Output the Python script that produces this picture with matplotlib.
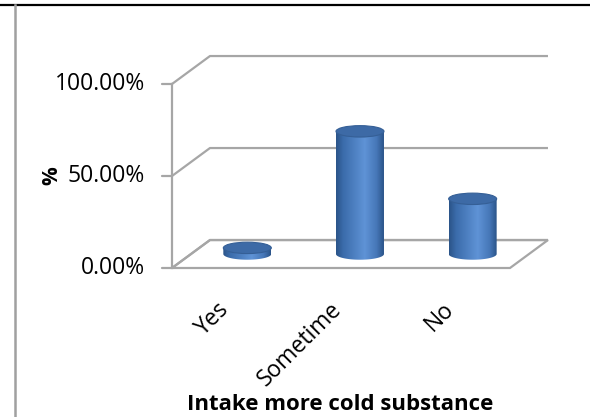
import numpy as np
import matplotlib.pyplot as plt
from matplotlib.patches import Ellipse, Polygon
from matplotlib.path import Path
from matplotlib.colors import LinearSegmentedColormap
from matplotlib.transforms import offset_copy

# Data kuesioner
kategori = ["Yes", "Sometime", "No"]
persen = [3.33, 66.67, 30.00]
tick_nilai = [0, 50, 100]
tick_label = ["0.00%", "50.00%", "100.00%"]
judul_x = "Intake more cold substance"
judul_y = "%"

plt.rcParams['font.family'] = ['Open Sans', 'DejaVu Sans']

fig = plt.figure(figsize=(5.9, 4.17), dpi=100)
# Axes = bidang depan grafik 3D
ax = fig.add_axes([172 / 590, 1 - 268 / 417, 338 / 590, 184 / 417])
ax.set_xlim(-0.5, len(kategori) - 0.5)
ax.set_ylim(0, 100)
ax.axis('off')

# Offset kedalaman (efek 3D)
DX = 0.337
DY = 15.2
abu = '#a6a6a6'
x0, x1 = -0.5, len(kategori) - 0.5

# Lantai
lantai = Polygon([(x0, 0), (x1, 0), (x1 + DX, DY), (x0 + DX, DY)],
                 closed=True, facecolor='white', edgecolor=abu, lw=1.6,
                 clip_on=False, zorder=1)
ax.add_patch(lantai)

# Garis grid dinding belakang dan samping
for v in tick_nilai:
    ax.plot([x0, x0 + DX, x1 + DX], [v, v + DY, v + DY], color=abu, lw=1.6,
            clip_on=False, zorder=1, solid_capstyle='butt')
ax.plot([x0, x0], [0, 100], color=abu, lw=1.6, clip_on=False, zorder=2)

# Tick dan label sumbu Y
lbl_tr = offset_copy(ax.transData, fig=fig, x=-27, y=0, units='dots')
for v, t in zip(tick_nilai, tick_label):
    ax.annotate('', xy=(x0, v), xytext=(-10, 0), textcoords='offset pixels',
                arrowprops=dict(arrowstyle='-', color=abu, lw=1.6,
                                shrinkA=0, shrinkB=0))
    ax.text(x0, v, t, transform=lbl_tr, ha='right', va='center',
            fontsize=16.5, color='black')

# Warna gradasi silinder
cmap = LinearSegmentedColormap.from_list('silinder', [
    (0.0, '#2b5489'), (0.15, '#3b6cab'), (0.6, '#5f93d6'),
    (0.85, '#4677b8'), (1.0, '#2b5489')])
grad = np.linspace(0, 1, 200).reshape(1, -1)

r = 0.213   # jari-jari horizontal (satuan kategori)
ry = 3.1    # jari-jari vertikal elips (satuan %)
for i, p in enumerate(persen):
    cx = i + DX / 2
    dasar = DY / 2
    atas = dasar + p
    # badan silinder: persegi + setengah elips bawah
    theta = np.linspace(np.pi, 2 * np.pi, 60)
    bx = cx + r * np.cos(theta)
    by = dasar + ry * np.sin(theta)
    verts = [(cx - r, atas)] + list(zip(bx, by)) + [(cx + r, atas), (cx - r, atas)]
    path = Path(verts)
    img = ax.imshow(grad, cmap=cmap, aspect='auto', zorder=3,
                    extent=[cx - r, cx + r, dasar - ry, atas], interpolation='bilinear')
    img.set_clip_path(path, ax.transData)
    # tutup atas
    ax.add_patch(Ellipse((cx, atas), 2 * r, 2 * ry, facecolor='#3d6aa6',
                         edgecolor='#355f96', lw=0.8, zorder=4))

ax.set_xlim(-0.5, len(kategori) - 0.5)
ax.set_ylim(0, 100)

# Label kategori (miring 45 derajat)
kat_tr = offset_copy(ax.transData, fig=fig, x=-3, y=-38, units='dots')
for i, k in enumerate(kategori):
    ax.text(i, 0, k, transform=kat_tr, rotation=45, rotation_mode='anchor',
            ha='right', va='center', fontsize=16.5, color='black')

# Judul sumbu
fig.text(340 / 590, 1 - 405 / 417, judul_x, ha='center', va='center',
         fontsize=16, fontweight='bold')
fig.text(52 / 590, 1 - 176 / 417, judul_y, ha='center', va='center',
         fontsize=15, fontweight='bold', rotation=90)

# Bingkai
fig.add_artist(plt.Line2D([0, 1], [1 - 4.5 / 417] * 2, color='black', lw=1.6,
                          transform=fig.transFigure))
fig.add_artist(plt.Line2D([14.5 / 590] * 2, [0, 1 - 5 / 417], color='#a0a0a0', lw=1.8,
                          transform=fig.transFigure))

plt.savefig('out.png', dpi=100)
